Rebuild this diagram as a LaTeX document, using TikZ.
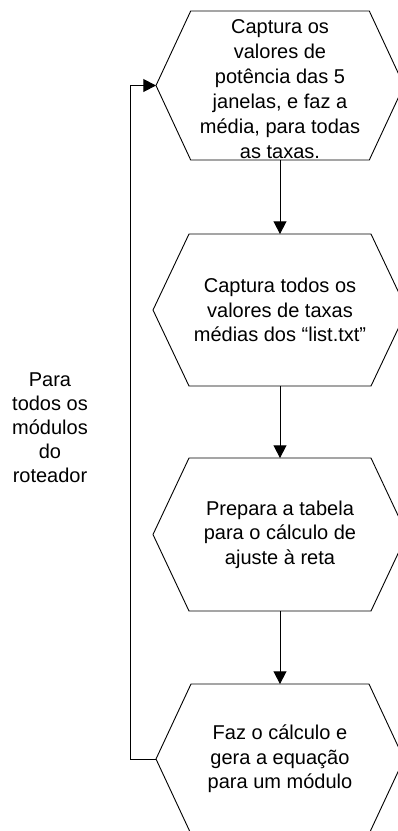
\documentclass[tikz,border=0pt]{standalone}
\usepackage{fontspec}
\setmainfont{Liberation Sans}
\usetikzlibrary{arrows.meta}
\begin{document}
\begin{tikzpicture}[x=1pt,y=-1pt,
  hexbox/.style={rectangle,inner sep=0pt,outer sep=0pt,align=center,
    font=\fontsize{20}{24.5}\selectfont},
  hextext/.style={inner sep=0pt,align=center,font=\fontsize{20}{25}\selectfont},
  lbl/.style={align=center,inner sep=0pt,font=\fontsize{20}{24}\selectfont},
  arr/.style={line width=0.9pt,-{Triangle[length=12.7pt,width=13pt]}},
  hexline/.style={line width=0.9pt,line join=miter}]
\clip (0,0) rectangle (398,831);
\useasboundingbox (0,0) rectangle (398,831);
\newcommand{\hexdraw}[2]{%
  \draw[hexline] (#1.west) -- ([xshift=#2pt]#1.north west) -- ([xshift=-#2pt]#1.north east)
    -- (#1.east) -- ([xshift=-#2pt]#1.south east) -- ([xshift=#2pt]#1.south west) -- cycle;}
\node[hexbox,minimum width=248pt,minimum height=149pt] (h1) at (280,85.5) {};
\node[hextext] (h1t) at (280,89.5)
  {Captura os\\valores de\\potência das 5\\janelas, e faz a\\média, para todas\\as taxas.};
\node[hexbox,minimum width=254pt,minimum height=152pt] (h2) at (280,310)
  {Captura todos os\\valores de taxas\\médias dos “list.txt”};
\node[hexbox,minimum width=254pt,minimum height=153pt] (h3) at (280,534.5)
  {Prepara a tabela\\para o cálculo de\\ajuste à reta};
\node[hexbox,minimum width=248pt,minimum height=150pt] (h4) at (280,759)
  {Faz o cálculo e\\gera a equação\\para um módulo};
\hexdraw{h1}{34.7}
\hexdraw{h2}{36}
\hexdraw{h3}{36}
\hexdraw{h4}{35}
\node[lbl] (lab) at (50,428) {Para\\todos os\\módulos\\do\\roteador};
\draw[arr] (h1.south) -- (h2.north);
\draw[arr] (h2.south) -- (h3.north);
\draw[arr] (h3.south) -- (h4.north);
\coordinate (loopx) at (130,0);
\draw[arr] (h4.west) -- (h4.west -| loopx) |- (h1.west);
\end{tikzpicture}
\end{document}
